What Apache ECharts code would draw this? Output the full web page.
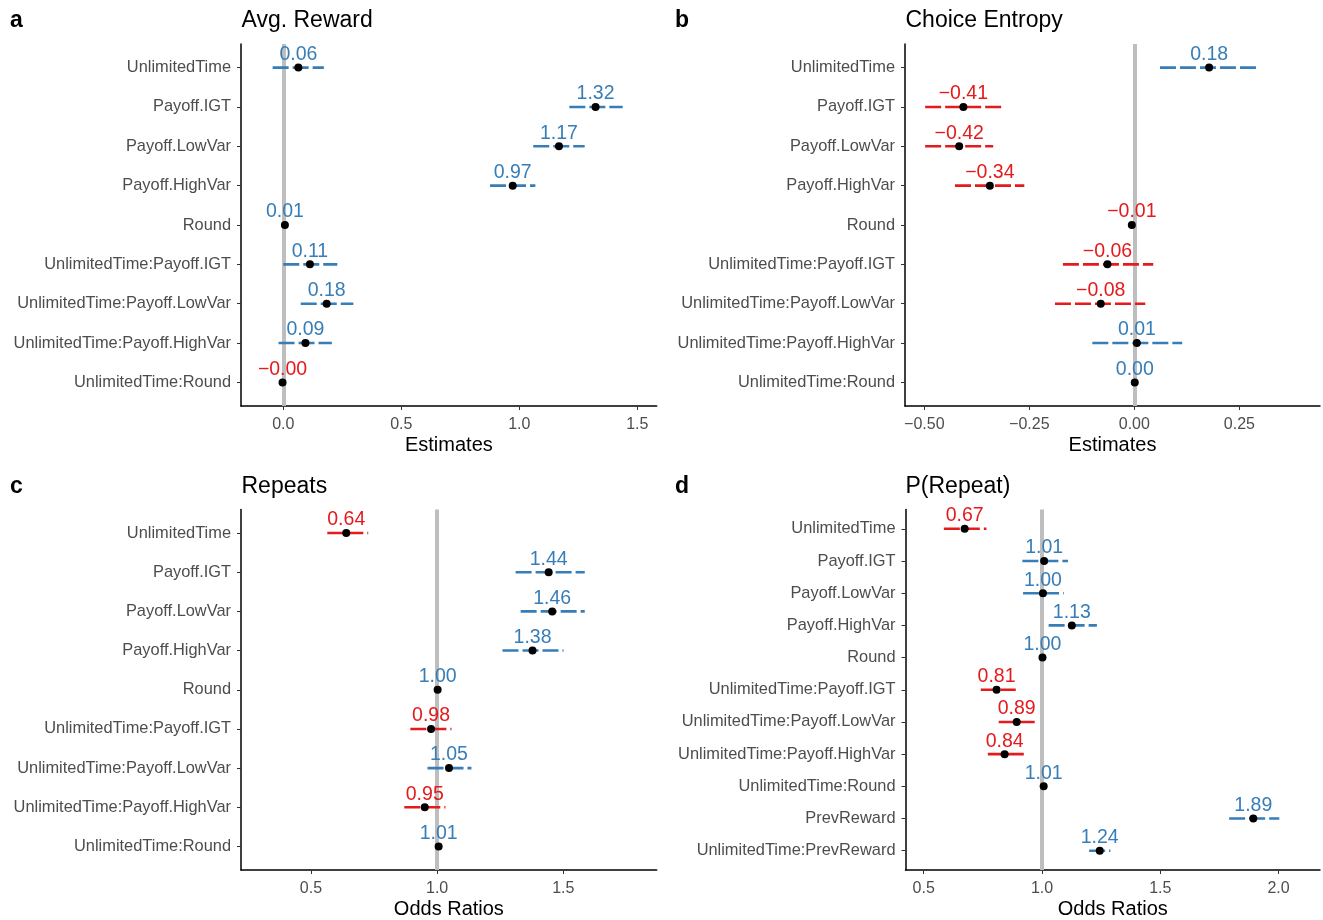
<!DOCTYPE html>
<html><head><meta charset="utf-8">
<script src="https://cdn.jsdelivr.net/npm/echarts@6/dist/echarts.min.js"></script>
<style>html,body{margin:0;padding:0;background:#fff}#c{width:1323px;height:920px}</style>
</head><body><div id="c"></div><script>
// ---------- DATA ----------
const termsABC = ['UnlimitedTime','Payoff.IGT','Payoff.LowVar','Payoff.HighVar','Round',
  'UnlimitedTime:Payoff.IGT','UnlimitedTime:Payoff.LowVar','UnlimitedTime:Payoff.HighVar','UnlimitedTime:Round'];
const termsD = ['UnlimitedTime','Payoff.IGT','Payoff.LowVar','Payoff.HighVar','Round',
  'UnlimitedTime:Payoff.IGT','UnlimitedTime:Payoff.LowVar','UnlimitedTime:Payoff.HighVar','UnlimitedTime:Round',
  'PrevReward','UnlimitedTime:PrevReward'];

// a: Avg. Reward (estimates)
const estA = [0.064, 1.323, 1.168, 0.972, 0.007, 0.113, 0.184, 0.094, -0.003];
const loA  = [-0.045, 1.212, 1.059, 0.876, 0.004, 0.000, 0.074, -0.020, -0.006];
const hiA  = [0.172, 1.438, 1.277, 1.068, 0.010, 0.229, 0.297, 0.206, 0.000];
// b: Choice Entropy (estimates)
const estB = [0.178, -0.407, -0.417, -0.344, -0.006, -0.064, -0.080, 0.006, 0.001];
const loB  = [0.061, -0.498, -0.498, -0.427, -0.009, -0.170, -0.189, -0.100, -0.001];
const hiB  = [0.295, -0.314, -0.336, -0.262, -0.003, 0.045, 0.026, 0.114, 0.003];
// c: Repeats (odds ratios)
const estC = [0.640, 1.442, 1.456, 1.378, 1.002, 0.976, 1.047, 0.951, 1.006];
const loC  = [0.565, 1.311, 1.331, 1.259, 0.999, 0.894, 0.962, 0.870, 1.003];
const hiC  = [0.727, 1.585, 1.585, 1.501, 1.005, 1.057, 1.136, 1.033, 1.009];
// d: P(Repeat) (odds ratios)
const estD = [0.673, 1.009, 1.004, 1.126, 1.002, 0.808, 0.893, 0.842, 1.007, 1.893, 1.244];
const loD  = [0.585, 0.917, 0.920, 1.028, 0.999, 0.741, 0.817, 0.771, 1.004, 1.791, 1.199];
const hiD  = [0.765, 1.110, 1.092, 1.232, 1.005, 0.889, 0.973, 0.923, 1.010, 2.003, 1.289];

const xTicksA = [0, 0.5, 1.0, 1.5];
const xTicksB = [-0.5, -0.25, 0, 0.25];
const xTicksC = [0.5, 1.0, 1.5];
const xTicksD = [0.5, 1.0, 1.5, 2.0];

const titles = ['Avg. Reward', 'Choice Entropy', 'Repeats', 'P(Repeat)'];
const letters = ['a', 'b', 'c', 'd'];
const xNames = ['Estimates', 'Estimates', 'Odds Ratios', 'Odds Ratios'];

// ---------- LAYOUT ----------
const FONT = '"Liberation Sans", Arial, Helvetica, sans-serif';
const BLUE = '#377eb8', RED = '#e41a1c';
const panels = [
  {terms: termsABC, est: estA, lo: loA, hi: hiA, ticks: xTicksA, dec: 1, ref: 0, min: -0.179, max: 1.582,
   grid: {left: 241, top: 44, width: 415.7, height: 362}, tx: 241.5, ty: 9, lx: 10},
  {terms: termsABC, est: estB, lo: loB, hi: hiB, ticks: xTicksB, dec: 2, ref: 0, min: -0.546, max: 0.442,
   grid: {left: 905, top: 44, width: 415, height: 362}, tx: 905.5, ty: 9, lx: 675},
  {terms: termsABC, est: estC, lo: loC, hi: hiC, ticks: xTicksC, dec: 1, ref: 1, min: 0.223, max: 1.870,
   grid: {left: 241, top: 509.5, width: 415.7, height: 362}, tx: 241.5, ty: 475, lx: 10},
  {terms: termsD, est: estD, lo: loD, hi: hiD, ticks: xTicksD, dec: 1, ref: 1, min: 0.423, max: 2.175,
   grid: {left: 905.5, top: 509.5, width: 414.5, height: 361.5}, tx: 905.5, ty: 475, lx: 675}
];

const fmtNum = (v, d) => v.toFixed(d).replace('-', '\u2212');

const option = {
  animation: false,
  backgroundColor: '#fff',
  textStyle: {fontFamily: FONT},
  title: [], grid: [], xAxis: [], yAxis: [], series: []
};

panels.forEach((p, k) => {
  const n = p.terms.length;
  const idx = p.terms.map((_, i) => i);
  option.grid.push(Object.assign({containLabel: false}, p.grid));
  option.title.push({text: titles[k], left: p.tx, top: p.ty, padding: 0,
    textStyle: {fontFamily: FONT, fontSize: 23, fontWeight: 'normal', color: '#000'}});
  option.title.push({text: letters[k], left: p.lx, top: p.ty, padding: 0,
    textStyle: {fontFamily: FONT, fontSize: 23, fontWeight: 'bold', color: '#000'}});
  option.xAxis.push({
    type: 'value', gridIndex: k, min: p.min, max: p.max,
    name: xNames[k], nameLocation: 'middle', nameGap: 29,
    nameTextStyle: {fontFamily: FONT, fontSize: 20, color: '#000'},
    axisLine: {show: true, onZero: false, lineStyle: {color: '#000', width: 1.5}},
    axisTick: {show: true, length: 4, customValues: p.ticks, lineStyle: {color: '#333', width: 1}},
    axisLabel: {customValues: p.ticks, margin: 11, fontFamily: FONT, fontSize: 16, color: '#4d4d4d',
      formatter: v => fmtNum(v, p.dec)},
    splitLine: {show: false}
  });
  option.yAxis.push({
    type: 'value', gridIndex: k, min: -0.6, max: n - 1 + 0.6, inverse: true,
    axisLine: {show: true, onZero: false, lineStyle: {color: '#000', width: 1.5}},
    axisTick: {show: true, length: 4, customValues: idx, lineStyle: {color: '#333', width: 1}},
    axisLabel: {customValues: idx, margin: 10, fontFamily: FONT, fontSize: 16.4, color: '#4d4d4d',
      formatter: v => p.terms[Math.round(v)] || ''},
    splitLine: {show: false}
  });
  const isNeg = v => v < p.ref;
  // reference line
  option.series.push({
    type: 'scatter', xAxisIndex: k, yAxisIndex: k, data: [], z: 1, silent: true,
    markLine: {silent: true, z: 1, symbol: ['none', 'none'], label: {show: false},
      lineStyle: {color: '#bebebe', width: 4, type: 'solid', opacity: 1}, data: [{xAxis: p.ref}]}
  });
  // confidence intervals
  option.series.push({
    type: 'custom', xAxisIndex: k, yAxisIndex: k, z: 2, silent: true,
    data: p.est.map((e, i) => [p.lo[i], p.hi[i], i, isNeg(e) ? 1 : 0]),
    encode: {x: [0, 1], y: 2},
    renderItem: (params, api) => {
      const a = api.coord([api.value(0), api.value(2)]);
      const b = api.coord([api.value(1), api.value(2)]);
      return {type: 'line', shape: {x1: a[0], y1: a[1], x2: b[0], y2: b[1]},
        style: {stroke: api.value(3) ? RED : BLUE, lineWidth: 2.6, lineDash: [16, 4]}};
    }
  });
  // points + labels
  option.series.push({
    type: 'scatter', xAxisIndex: k, yAxisIndex: k, z: 5, zlevel: 0, symbolSize: 8,
    itemStyle: {color: '#000', opacity: 1},
    label: {show: true, position: 'top', distance: -1, fontFamily: FONT, fontSize: 19.5, opacity: 1,
      formatter: prm => fmtNum(prm.value[0], 2)},
    labelLayout: {hideOverlap: false},
    data: p.est.map((e, i) => ({value: [e, i], label: {color: isNeg(e) ? RED : BLUE}}))
  });
});

const chart = echarts.init(document.getElementById('c'), null, {renderer: 'canvas'});
chart.setOption(option);
</script></body></html>
